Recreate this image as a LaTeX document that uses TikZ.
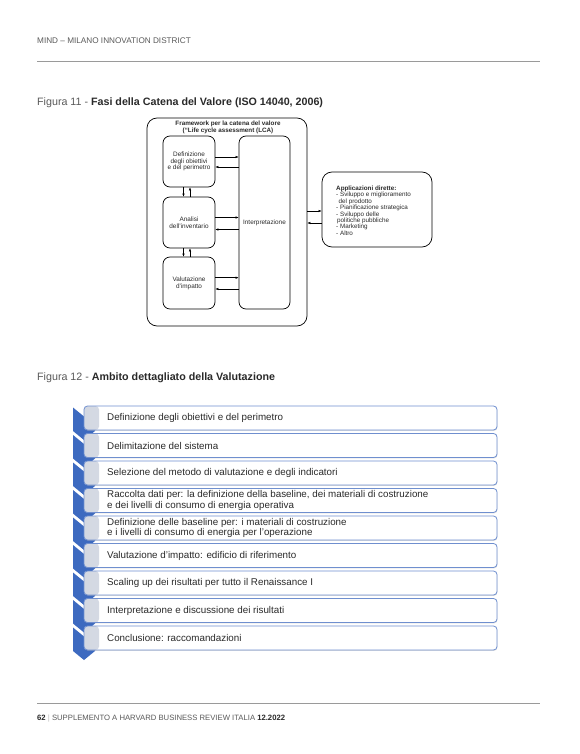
\documentclass[tikz,border=0pt]{standalone}
\usepackage{fontspec}
\setmainfont{Liberation Sans}
\usetikzlibrary{arrows.meta,shadows}
\definecolor{chevblue}{HTML}{3D6AC0}
\definecolor{rowedge}{HTML}{6F8FCF}
\definecolor{txtdark}{HTML}{2A2A2A}
\definecolor{txtgray}{HTML}{5A5A5A}
\definecolor{rulegray}{HTML}{9A9A9A}
\definecolor{stripgray}{HTML}{D3D8E2}
\tikzset{
  fbox/.style={draw=black, line width=0.7pt, rounded corners=7pt, align=center,
    font=\fontsize{6.4}{6.8}\selectfont, text=txtdark, inner sep=0pt},
  arr/.style={-{Latex[length=3pt,width=2.4pt]}, line width=0.45pt, black},
  rowbox/.style={draw=rowedge, line width=0.8pt, rounded corners=3.5pt, fill=white,
    minimum width=413pt, minimum height=24pt, inner sep=0pt,
    drop shadow={shadow xshift=0.4pt, shadow yshift=-0.9pt, opacity=0.25},
    path picture={\shade[left color=stripgray, right color=white]
      (path picture bounding box.south west) rectangle ([xshift=15pt]path picture bounding box.north west);}},
  rowtext/.style={anchor=west, align=left, font=\fontsize{9.8}{8.6}\selectfont, text=txtdark, inner sep=0pt},
}
\begin{document}
\begin{tikzpicture}[x=1pt,y=-1pt]
\useasboundingbox[fill=white] (0,0) rectangle (580,754);

% header
\node[anchor=west, inner sep=0pt, font=\fontsize{8.2}{9}\selectfont, text=txtgray] (hdr) at (37,41) {MIND – MILANO INNOVATION DISTRICT};
\draw[rulegray, line width=0.6pt] (37,61) -- (540,61);

% caption 11
\node[anchor=west, inner sep=0pt, font=\fontsize{10.7}{12}\selectfont, text=txtgray] (cap11) at (37,103)
  {Figura 11 - \textbf{\color{txtdark}Fasi della Catena del Valore (ISO 14040, 2006)}};

% figure 11
\node[draw, line width=0.7pt, rounded corners=10pt, minimum width=160pt, minimum height=208pt, inner sep=0pt] (frame) at (227,222) {};
\node[font=\bfseries\fontsize{6.3}{6.4}\selectfont, align=center, text=txtdark, inner sep=0pt] (fwtitle) at (228,127.5)
  {Framework per la catena del valore\\(“Life cycle assessment (LCA)};
\node[fbox, minimum width=52pt, minimum height=51pt] (b1) at (189,161.5) {Definizione\\degli obiettivi\\e del perimetro};
\node[fbox, minimum width=52pt, minimum height=51pt] (b2) at (189,222.5) {Analisi\\dell’inventario};
\node[fbox, minimum width=52pt, minimum height=52pt] (b3) at (189,283) {Valutazione\\d’impatto};
\node[fbox, minimum width=51pt, minimum height=173pt] (interp) at (264.5,222.5) {Interpretazione};
\node[draw, line width=0.7pt, rounded corners=10pt, minimum width=110pt, minimum height=75pt, inner sep=0pt] (apps) at (377,209.5) {};
\node[anchor=north west, align=left, inner sep=0pt, text=txtdark, font=\fontsize{6.3}{6.45}\selectfont] (appstext) at (336,185.5)
  {\textbf{Applicazioni dirette:}\\
   - Sviluppo e miglioramento\\
   \hspace*{2.5pt}del prodotto\\
   - Pianificazione strategica\\
   - Sviluppo delle\\
   \hspace*{1pt}politiche pubbliche\\
   - Marketing\\
   - Altro};

\draw[arr] ([yshift=4.5pt]b1.east) -- ([yshift=4.5pt]b1.east -| interp.west);
\draw[arr] ([yshift=-5.5pt]b1.east -| interp.west) -- ([yshift=-5.5pt]b1.east);
\draw[arr] ([yshift=5pt]b2.east) -- ([yshift=5pt]b2.east -| interp.west);
\draw[arr] ([yshift=-7pt]b2.east -| interp.west) -- ([yshift=-7pt]b2.east);
\draw[arr] ([yshift=5.3pt]b3.east) -- ([yshift=5.3pt]b3.east -| interp.west);
\draw[arr] ([yshift=-6pt]b3.east -| interp.west) -- ([yshift=-6pt]b3.east);

\draw[arr] ([xshift=-5.5pt]b1.south) -- ([xshift=-5.5pt]b1.south |- b2.north);
\draw[arr] ([xshift=1pt]b2.north) -- ([xshift=1pt]b2.north |- b1.south);
\draw[arr] ([xshift=-5.5pt]b2.south) -- ([xshift=-5.5pt]b2.south |- b3.north);
\draw[arr] ([xshift=1pt]b3.north) -- ([xshift=1pt]b3.north |- b2.south);

\draw[arr] ([yshift=-1.5pt]apps.west -| frame.east) -- ([yshift=-1.5pt]apps.west);
\draw[arr] ([yshift=-13.5pt]apps.west) -- ([yshift=-13.5pt]apps.west -| frame.east);

% caption 12
\node[anchor=west, inner sep=0pt, font=\fontsize{10.7}{12}\selectfont, text=txtgray] (cap12) at (37,378)
  {Figura 12 - \textbf{\color{txtdark}Ambito dettagliato della Valutazione}};

% chevrons
\foreach \i in {0,...,8}{
  \pgfmathsetmacro{\t}{406+27.5*\i}
  \fill[chevblue] (73,\t+1.5) -- (84,\t+10.5) -- (95,\t+1.5) -- (95,\t+25) -- (84,\t+34) -- (73,\t+25) -- cycle;
}
% rows
\foreach \i/\txt in {
  0/{Definizione degli obiettivi e del perimetro},
  1/{Delimitazione del sistema},
  2/{Selezione del metodo di valutazione e degli indicatori},
  3/{Raccolta dati per: la definizione della baseline, dei materiali di costruzione\\e dei livelli di consumo di energia operativa},
  4/{Definizione delle baseline per: i materiali di costruzione\\e i livelli di consumo di energia per l’operazione},
  5/{Valutazione d’impatto: edificio di riferimento},
  6/{Scaling up dei risultati per tutto il Renaissance I},
  7/{Interpretazione e discussione dei risultati},
  8/{Conclusione: raccomandazioni}}{
  \pgfmathsetmacro{\yc}{418+27.5*\i}
  \node[rowbox] (row\i) at (290.5,\yc) {};
  \node[rowtext] (rowtext\i) at (107,\yc) {\txt};
}

% footer
\draw[rulegray, line width=0.6pt] (37,703) -- (540,703);
\node[anchor=west, inner sep=0pt, font=\fontsize{7.7}{8}\selectfont, text=txtgray] (footer) at (37,719)
  {\textbf{\color{txtdark}62} {\color{gray!50}|} SUPPLEMENTO A HARVARD BUSINESS REVIEW ITALIA \textbf{\color{txtdark}12.2022}};
\end{tikzpicture}
\end{document}
